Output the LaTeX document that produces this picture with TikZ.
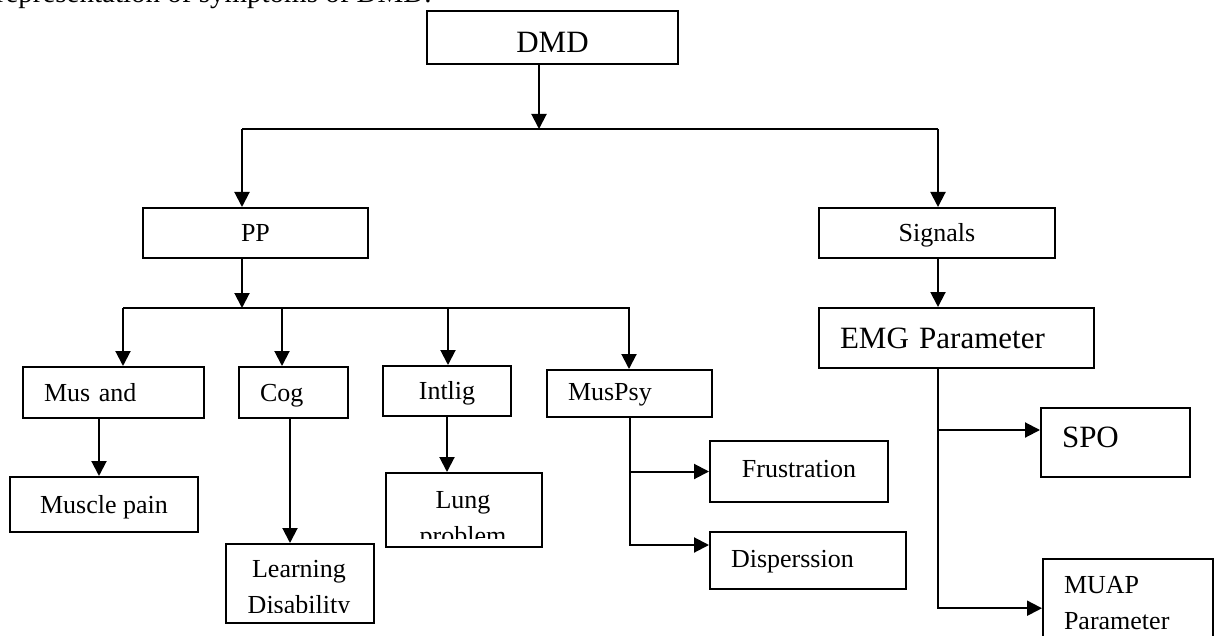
\documentclass[tikz,border=0pt]{standalone}
\usepackage{fontspec}
\setmainfont{Liberation Serif}
\usetikzlibrary{arrows.meta}

\newcommand{\nodefont}{\fontsize{13}{18}\selectfont}
\newcommand{\bignodefont}{\fontsize{15.5}{18}\selectfont}
\newcommand{\captionfont}{\fontsize{14.5}{17}\selectfont}

\begin{document}
\begin{tikzpicture}[x=0.5pt, y=-0.5pt,
    frame/.style={draw, line width=1pt, inner sep=0pt},
    txt/.style={inner sep=0pt, font=\nodefont, align=center},
    box/.style={frame, font=\nodefont, text height=8.6pt, text depth=0pt, align=center},
    bigbox/.style={box, font=\bignodefont, text height=10.3pt},
    lbox/.style={inner xsep=10.5pt, align=left},
    wire/.style={line width=1pt},
    arr/.style={line width=1pt, -{Triangle[length=7.5pt, width=7.5pt]}}]
  \useasboundingbox (0,0) rectangle (1219,636);
  % caption line, cut by the top edge
  \node[inner sep=0pt, font=\captionfont, anchor=base east] (caption) at (432,2.5) {representation of symptoms of DMD.};
  % boxes
  \node[bigbox, minimum width=125.5pt, minimum height=26.5pt, text height=14.8pt] (dmd) at (552.5,37.5) {DMD};
  \node[box, minimum width=112.5pt, minimum height=25pt] (pp) at (255.5,233) {PP};
  \node[box, minimum width=118pt, minimum height=25pt] (signals) at (937,233) {Signals};
  \node[bigbox, lbox, text width=116.5pt, minimum height=30pt] (emg) at (956.5,338) {EMG Parameter};
  \node[box, lbox, text width=69.5pt, minimum height=25.5pt] (musand) at (113.5,392.5) {Mus and};
  \node[box, lbox, text width=33.5pt, minimum height=25.5pt] (cog) at (293.5,392.5) {Cog};
  \node[box, minimum width=64pt, minimum height=25pt] (intlig) at (447,391) {Intlig};
  \node[box, lbox, text width=61.5pt, minimum height=23.5pt, text depth=2pt] (muspsy) at (629.5,393.5) {MusPsy};
  \node[box, minimum width=94pt, minimum height=27.5pt] (pain) at (104,504.5) {Muscle pain};
  \node[box, minimum width=89pt, minimum height=30.5pt, text depth=3pt] (frus) at (799,471.5) {Frustration};
  \node[box, lbox, text width=77pt, minimum height=28.5pt, text depth=2pt] (disp) at (808,560.5) {Disperssion};
  \node[bigbox, lbox, text width=53.5pt, minimum height=34.5pt, text depth=5.5pt] (spo) at (1115.5,442.5) {SPO};
  \node[frame, font=\nodefont, lbox, anchor=north west, text width=64pt, inner ysep=8.5pt] (muap) at (1042,558) {MUAP\\Parameter};
  % boxes whose second line is cut off
  \node[frame, minimum width=78pt, minimum height=37pt, anchor=north west] (lung) at (385,472) {};
  \node[frame, minimum width=74pt, minimum height=39.5pt, anchor=north west] (learn) at (225,543) {};
  \begin{scope}
    \clip (lung.north west) rectangle ([yshift=5pt]lung.south east);
    \node[txt, anchor=north] (lungtxt) at (463,490.8) {Lung\\problem};
  \end{scope}
  \begin{scope}
    \clip (learn.north west) rectangle ([yshift=6pt]learn.south east);
    \node[txt, anchor=north] (learntxt) at (299,560.2) {Learning\\Disability};
  \end{scope}
  % branch points
  \coordinate (top) at (539,129);
  \coordinate (topL) at (242,129);
  \coordinate (topR) at (938,129);
  \coordinate (row) at (242,308);
  \coordinate (c1) at (123,308);
  \coordinate (c2) at (282,308);
  \coordinate (c3) at (448,308);
  \coordinate (rowR) at (629,308);
  \coordinate (painin) at ([xshift=-2.5pt]pain.north);
  \coordinate (learnin) at ([xshift=-5pt]learn.north);
  \coordinate (spoin) at ([yshift=6.25pt]spo.west);
  % connectors
  \draw[arr] (dmd.south -| top) -- (top);
  \draw[wire] (topL) -- (topR);
  \draw[arr] (topL) -- (pp.north -| topL);
  \draw[arr] (topR) -- (signals.north -| topR);
  \draw[arr] (signals.south -| topR) -- (emg.north -| topR);
  \draw[arr] (pp.south -| row) -- (row);
  \draw[arr] (c1) -- (rowR) -- (muspsy.north -| rowR);
  \foreach \c/\n in {c1/musand, c2/cog, c3/intlig}
    \draw[arr] (\c) -- (\n.north -| \c);
  \draw[arr] (musand.south -| painin) -- (painin);
  \draw[arr] (cog.south -| learnin) -- (learnin);
  \draw[arr] (intlig.south) -- (intlig.south |- lung.north);
  \draw[arr] (muspsy.south) |- ([yshift=7.75pt]disp.west);
  \draw[arr] (muspsy.south |- frus.west) -- (frus.west);
  \draw[arr] (emg.south -| topR) |- ([yshift=-2.75pt]muap.west);
  \draw[arr] (spoin -| topR) -- (spoin);
\end{tikzpicture}
\end{document}
